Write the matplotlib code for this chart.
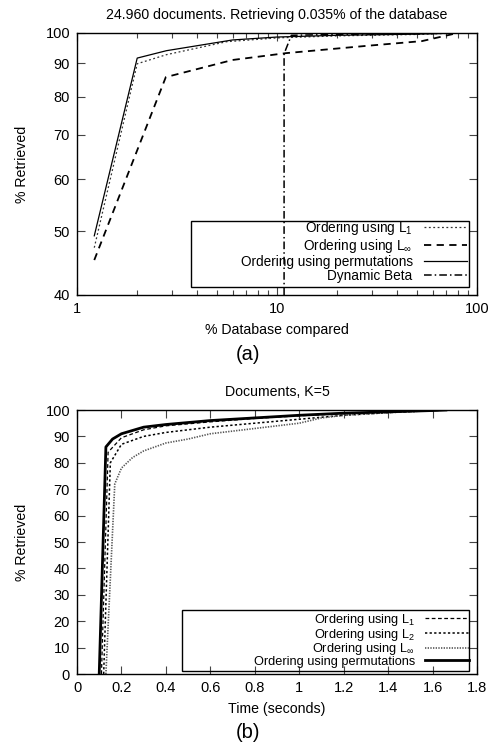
import matplotlib
matplotlib.use("Agg")
import matplotlib.pyplot as plt
from matplotlib.patches import Rectangle
from matplotlib.ticker import FixedLocator, NullFormatter, NullLocator

plt.rcParams['font.family'] = ['Liberation Sans', 'DejaVu Sans']
plt.rcParams['mathtext.fontset'] = 'custom'
plt.rcParams['mathtext.rm'] = 'Liberation Sans'
plt.rcParams['mathtext.it'] = 'Liberation Sans'

# ---- (a) data ----
a_x_l1 = [1.22, 2.0, 2.8, 5.6, 10, 20, 50, 80]
a_y_l1 = [47.2, 89.8, 92.7, 97.0, 98.3, 99.0, 99.5, 100]
a_x_linf = [1.22, 2.78, 6.0, 11.1, 28, 53, 80]
a_y_linf = [45.2, 85.7, 91.0, 93.2, 95.6, 97.2, 100]
a_x_perm = [1.22, 2.0, 2.8, 6.0, 10, 20, 50, 80]
a_y_perm = [49.2, 91.6, 94.0, 97.6, 98.6, 99.2, 99.6, 100]
a_x_beta = [10.85, 10.85, 11.8, 20, 50, 80]
a_y_beta = [40, 93.0, 99.2, 99.5, 99.8, 100]

# ---- (b) data ----
b_x_l1 = [0.11, 0.14, 0.2, 0.3, 0.4, 0.6, 0.8, 1.0, 1.2, 1.4, 1.66]
b_y_l1 = [0, 84, 89.5, 92.5, 94, 95.5, 96.8, 97.8, 98.6, 99.2, 100]
b_x_l2 = [0.12, 0.15, 0.2, 0.3, 0.4, 0.6, 0.8, 1.0, 1.2, 1.4, 1.66]
b_y_l2 = [0, 80, 87, 90, 91.5, 93.5, 95, 96.5, 98, 99, 100]
b_x_linf = [0.13, 0.17, 0.2, 0.25, 0.3, 0.4, 0.5, 0.6, 0.8, 1.0, 1.1, 1.2, 1.4, 1.66]
b_y_linf = [0, 72, 78, 82, 84.5, 87.5, 89, 91, 93, 95, 97, 98, 99, 100]
b_x_perm = [0.10, 0.13, 0.16, 0.2, 0.3, 0.4, 0.6, 0.8, 1.0, 1.2, 1.4, 1.6, 1.66]
b_y_perm = [0, 86, 89, 91, 93.5, 94.5, 96, 97, 98, 98.8, 99.3, 99.8, 100]

a_yticks = [40, 50, 60, 70, 80, 90, 100]
b_xticks = [0, 0.2, 0.4, 0.6, 0.8, 1, 1.2, 1.4, 1.6, 1.8]
b_yticks = [0, 10, 20, 30, 40, 50, 60, 70, 80, 90, 100]

W, H = 501, 748
fig = plt.figure(figsize=(W / 100, H / 100), dpi=100)

def ax_rect(l, t, r, b):
    return [l / W, 1 - b / H, (r - l) / W, (b - t) / H]

fs_tick = 10.5
fs_lab = 10.2
fs_leg = 9.8
ax1 = fig.add_axes(ax_rect(77, 33, 477, 295))
ax2 = fig.add_axes(ax_rect(77, 410, 477, 674))

for ax in (ax1, ax2):
    ax.tick_params(direction='in', which='both', top=True, right=True,
                   labelsize=fs_tick, width=0.8, color='#444444', pad=5)
    for s in ax.spines.values():
        s.set_linewidth(1.0)

# (a)
ax1.plot(a_x_l1, a_y_l1, color='#333333', lw=0.9, ls=(0, (1.5, 2)), label='Ordering using L$_1$')
ax1.plot(a_x_linf, a_y_linf, color='black', lw=1.3, ls=(0, (4, 3)), label=r'Ordering using L$_\infty$')
ax1.plot(a_x_perm, a_y_perm, color='black', lw=0.9, ls='-', label='Ordering using permutations')
ax1.plot(a_x_beta, a_y_beta, color='black', lw=1.1, ls=(0, (5, 2, 1, 2)), label='Dynamic Beta')
ax1.set_xscale('log')
ax1.set_yscale('log')
ax1.set_xlim(1, 100)
ax1.set_ylim(40, 100)
ax1.set_xticks([1, 10, 100])
ax1.set_xticklabels(['1', '10', '100'])
ax1.yaxis.set_major_locator(FixedLocator(a_yticks))
ax1.set_yticklabels([str(v) for v in a_yticks])
ax1.yaxis.set_minor_locator(NullLocator())
ax1.yaxis.set_minor_formatter(NullFormatter())
ax1.xaxis.set_minor_formatter(NullFormatter())
ax1.tick_params(which='major', length=6)
ax1.tick_params(which='minor', length=3.5)
ax1.set_title('24.960 documents. Retrieving 0.035% of the database', fontsize=fs_lab, pad=10)
ax1.set_xlabel('% Database compared', fontsize=fs_lab, labelpad=5)
ax1.set_ylabel('% Retrieved', fontsize=fs_lab, labelpad=12)
ax1.add_patch(Rectangle((0.285, 0.03), 0.695, 0.253, transform=ax1.transAxes,
                        fill=False, edgecolor='black', lw=1.0, zorder=4))
ax1.legend(loc='lower right', bbox_to_anchor=(0.982, 0.035), frameon=False, markerfirst=False,
           fontsize=fs_leg, handlelength=3.2, handletextpad=0.8, labelspacing=0.0,
           borderpad=0.2, borderaxespad=0)
fig.text(248 / W, 1 - 354 / H, '(a)', fontsize=14.5, ha='center', va='center')

# (b)
ax2.plot(b_x_l1, b_y_l1, color='black', lw=0.9, ls=(0, (3, 2)), label='Ordering using L$_1$')
ax2.plot(b_x_l2, b_y_l2, color='black', lw=1.1, ls=(0, (1.5, 1.5)), label='Ordering using L$_2$')
ax2.plot(b_x_linf, b_y_linf, color='#555555', lw=1.2, ls=(0, (0.8, 0.8)), label=r'Ordering using L$_\infty$')
ax2.plot(b_x_perm, b_y_perm, color='black', lw=2.0, ls='-', label='Ordering using permutations')
ax2.set_xlim(0, 1.8)
ax2.set_ylim(0, 100)
ax2.set_xticks(b_xticks)
ax2.set_xticklabels(['0', '0.2', '0.4', '0.6', '0.8', '1', '1.2', '1.4', '1.6', '1.8'])
ax2.set_yticks(b_yticks)
ax2.tick_params(which='major', length=6)
ax2.set_title('Documents, K=5', fontsize=fs_lab, pad=10)
ax2.set_xlabel('Time (seconds)', fontsize=fs_lab, labelpad=5)
ax2.set_ylabel('% Retrieved', fontsize=fs_lab, labelpad=12)
ax2.add_patch(Rectangle((0.263, 0.012), 0.717, 0.232, transform=ax2.transAxes,
                        fill=False, edgecolor='black', lw=1.0, zorder=4))
ax2.legend(loc='lower right', bbox_to_anchor=(0.982, 0.018), frameon=False, markerfirst=False,
           fontsize=9.2, handlelength=3.4, handletextpad=0.8, labelspacing=-0.1,
           borderpad=0.1, borderaxespad=0)
fig.text(248 / W, 1 - 733 / H, '(b)', fontsize=14.5, ha='center', va='center')

fig.savefig('out.png', dpi=100)
